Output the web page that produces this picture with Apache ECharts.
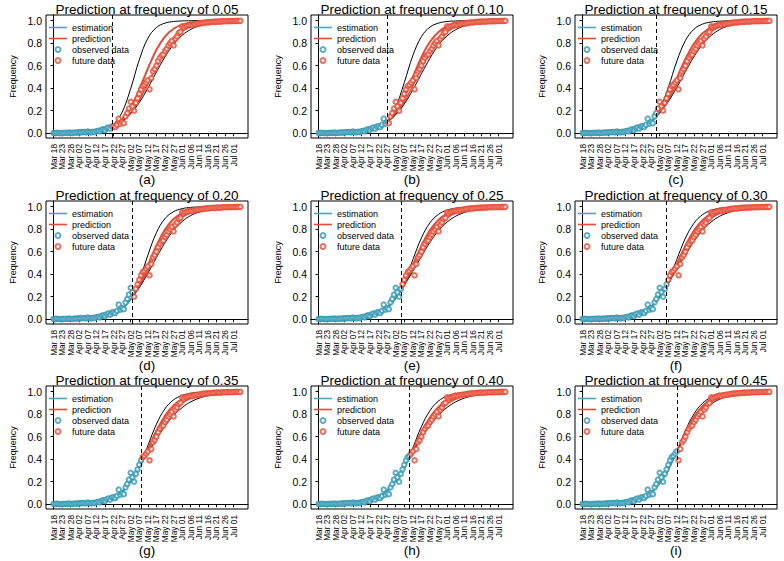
<!DOCTYPE html>
<html><head><meta charset="utf-8">
<script src="https://cdn.jsdelivr.net/npm/echarts@6/dist/echarts.min.js"></script>
<style>html,body{margin:0;padding:0;background:#fff}#c{width:784px;height:561px}</style>
</head><body><div id="c"></div>
<script>
// ---- tick labels (x axis, day index from Mar 18) ----
const tickDays = [0,5,10,15,20,25,30,35,40,45,50,55,60,65,70,75,80,85,90,95,100,105];
const tickLabels = ['Mar 18','Mar 23','Mar 28','Apr 02','Apr 07','Apr 12','Apr 17','Apr 22','Apr 27','May 02','May 07','May 12','May 17','May 22','May 27','Jun 01','Jun 06','Jun 11','Jun 16','Jun 21','Jun 26','Jul 01'];
const yTicks = [0,0.2,0.4,0.6,0.8,1.0];

// ---- daily observed frequency, Mar 18 (day 0) .. Jul 05 (day 109) ----
const frequency = [
 0.003,0.001,0.004,0.002,0.000,0.003,0.002,0.005,0.003,0.006,
 0.004,0.002,0.007,0.005,0.008,0.006,0.010,0.009,0.012,0.007,
 0.015,0.011,0.008,0.014,0.010,0.018,0.022,0.016,0.030,0.035,
 0.028,0.045,0.052,0.040,0.060,0.062,0.055,0.075,0.130,0.085,
 0.100,0.090,0.150,0.180,0.220,0.280,0.240,0.200,0.270,0.310,
 0.350,0.390,0.420,0.430,0.450,0.470,0.390,0.490,0.550,0.570,
 0.600,0.640,0.670,0.690,0.700,0.730,0.750,0.780,0.800,0.820,
 0.780,0.840,0.860,0.890,0.900,0.950,0.940,0.950,0.955,0.960,
 0.965,0.960,0.970,0.968,0.975,0.972,0.978,0.980,0.982,0.985,
 0.983,0.987,0.988,0.990,0.989,0.991,0.992,0.990,0.993,0.994,
 0.995,0.994,0.996,0.995,0.997,0.996,0.997,0.998,0.997,0.998
];

// ---- panels ----
const thresholds = ['0.05','0.10','0.15','0.20','0.25','0.30','0.35','0.40','0.45'];
const panelTags = ['(a)','(b)','(c)','(d)','(e)','(f)','(g)','(h)','(i)'];
const cutoffDays = [34,40,43,46,48,49,51,53,55];

// fitted curves: estimation at days 0,5,..(<cutoff),cutoff ; prediction curves at cutoff, next multiples of 5 .. 110
const estA = [0.0004,0.0007,0.0016,0.0033,0.0070,0.0148,0.031,0.055];
const upA  = [0.055,0.074,0.187,0.397,0.652,0.843,0.939,0.978,0.992,0.997,0.999,1.0,1.0,1.0,1.0,1.0,1.0];
const predA= [0.055,0.063,0.125,0.231,0.389,0.574,0.741,0.858,0.928,0.964,0.983,0.992,0.996,0.998,0.999,1.0,1.0];
const pred2A=[0.055,0.060,0.107,0.182,0.294,0.438,0.593,0.731,0.835,0.905,0.947,0.971,0.984,0.991,0.995,0.997,0.999];
const lowA = [0.055,0.063,0.106,0.175,0.273,0.401,0.543,0.679,0.789,0.870,0.922,0.955,0.974,0.985,0.992,0.995,0.997];

const estB = [0.0003,0.0006,0.0014,0.0028,0.0058,0.012,0.025,0.050,0.100];
const upB  = [0.100,0.231,0.450,0.690,0.858,0.943,0.978,0.992,0.997,0.999,1.0,1.0,1.0,1.0,1.0];
const predB= [0.100,0.187,0.324,0.500,0.676,0.813,0.900,0.950,0.975,0.988,0.994,0.997,0.999,0.999,1.0];
const pred2B=[0.100,0.171,0.280,0.422,0.578,0.720,0.829,0.901,0.945,0.970,0.983,0.991,0.995,0.998,0.999];
const lowB = [0.100,0.165,0.260,0.386,0.529,0.667,0.782,0.865,0.920,0.953,0.973,0.985,0.992,0.995,0.997];

const estC = [0.0004,0.0008,0.0017,0.0034,0.0068,0.0138,0.0274,0.054,0.103,0.150];
const upC  = [0.150,0.207,0.405,0.640,0.823,0.924,0.969,0.988,0.995,0.998,0.999,1.0,1.0,1.0,1.0];
const predC= [0.150,0.190,0.321,0.490,0.660,0.797,0.888,0.941,0.970,0.985,0.993,0.996,0.998,0.999,1.0];
const pred2C=[0.150,0.184,0.296,0.438,0.592,0.729,0.834,0.903,0.945,0.970,0.984,0.991,0.995,0.997,0.999];
const lowC = [0.150,0.182,0.281,0.408,0.548,0.681,0.790,0.868,0.921,0.953,0.973,0.984,0.991,0.995,0.997];

const estD = [0.0003,0.0007,0.0013,0.0028,0.0057,0.0117,0.024,0.048,0.094,0.177,0.199];
const upD  = [0.200,0.343,0.569,0.769,0.894,0.955,0.982,0.993,0.997,0.999,1.0,1.0,1.0,1.0];
const predD= [0.200,0.307,0.478,0.654,0.796,0.890,0.943,0.972,0.986,0.993,0.997,0.998,0.999,1.0];
const pred2D=[0.200,0.293,0.437,0.593,0.733,0.837,0.906,0.948,0.971,0.985,0.992,0.996,0.998,0.999];
const lowD = [0.200,0.281,0.408,0.548,0.681,0.790,0.868,0.921,0.953,0.973,0.984,0.991,0.995,0.997];

const estE = [0.0004,0.0008,0.0017,0.0034,0.0069,0.0138,0.0274,0.054,0.102,0.187,0.259];
const upE  = [0.259,0.328,0.529,0.722,0.857,0.932,0.969,0.986,0.994,0.997,0.999,1.0,1.0,1.0];
const predE= [0.259,0.316,0.483,0.652,0.791,0.884,0.939,0.969,0.984,0.992,0.996,0.998,0.999,1.0];
const pred2E=[0.259,0.308,0.449,0.598,0.732,0.833,0.901,0.944,0.968,0.983,0.990,0.995,0.997,0.998];
const lowE = [0.259,0.303,0.426,0.558,0.684,0.787,0.863,0.915,0.948,0.969,0.982,0.989,0.994,0.996];

const estF = [0.0006,0.0011,0.0022,0.0043,0.0084,0.0165,0.032,0.061,0.112,0.199,0.300];
const upF  = [0.300,0.335,0.532,0.720,0.853,0.929,0.967,0.985,0.993,0.997,0.999,0.999,1.0,1.0];
const predF= [0.300,0.328,0.490,0.654,0.787,0.879,0.935,0.966,0.982,0.991,0.995,0.998,0.999,0.999];
const pred2F=[0.300,0.325,0.462,0.606,0.733,0.830,0.897,0.940,0.965,0.980,0.989,0.994,0.997,0.998];
const lowF = [0.300,0.321,0.443,0.572,0.692,0.791,0.864,0.915,0.947,0.968,0.981,0.988,0.993,0.996];

const estG = [0.0006,0.0012,0.0023,0.0045,0.0088,0.017,0.033,0.062,0.114,0.201,0.330,0.360];
const upG  = [0.360,0.520,0.711,0.848,0.927,0.966,0.985,0.993,0.997,0.999,0.999,1.0,1.0];
const predG= [0.360,0.490,0.652,0.786,0.878,0.933,0.965,0.982,0.991,0.995,0.998,0.999,0.999];
const pred2G=[0.360,0.471,0.613,0.738,0.833,0.899,0.940,0.966,0.980,0.989,0.994,0.996,0.998];
const lowG = [0.360,0.456,0.579,0.693,0.787,0.858,0.909,0.942,0.964,0.978,0.986,0.992,0.995];

const estH = [0.0008,0.0016,0.003,0.0056,0.0106,0.0198,0.037,0.068,0.121,0.207,0.331,0.421];
const upH  = [0.421,0.500,0.690,0.832,0.917,0.961,0.982,0.992,0.996,0.998,0.999,1.0,1.0];
const predH= [0.421,0.484,0.640,0.771,0.865,0.924,0.958,0.978,0.988,0.994,0.997,0.998,0.999];
const pred2H=[0.421,0.475,0.611,0.731,0.825,0.891,0.934,0.961,0.977,0.987,0.992,0.996,0.997];
const lowH = [0.421,0.465,0.589,0.699,0.791,0.860,0.909,0.942,0.963,0.977,0.986,0.991,0.995];

const estI = [0.0005,0.001,0.002,0.004,0.0078,0.015,0.029,0.056,0.104,0.187,0.311,0.470];
const upI  = [0.470,0.654,0.802,0.897,0.949,0.975,0.988,0.995,0.997,0.999,0.999,1.0];
const predI= [0.470,0.635,0.774,0.870,0.929,0.963,0.981,0.990,0.995,0.997,0.999,0.999];
const pred2I=[0.470,0.620,0.750,0.847,0.910,0.949,0.972,0.984,0.992,0.995,0.998,0.999];
const lowI = [0.470,0.606,0.727,0.822,0.889,0.933,0.960,0.977,0.986,0.992,0.995,0.997];

const estList  = [estA,estB,estC,estD,estE,estF,estG,estH,estI];
const upList   = [upA,upB,upC,upD,upE,upF,upG,upH,upI];
const predList = [predA,predB,predC,predD,predE,predF,predG,predH,predI];
const pred2List= [pred2A,pred2B,pred2C,pred2D,pred2E,pred2F,pred2G,pred2H,pred2I];
const lowList  = [lowA,lowB,lowC,lowD,lowE,lowF,lowG,lowH,lowI];

// ---- styling / layout ----
const FONT = '"Liberation Sans", Arial, Helvetica, sans-serif';
const TEAL = '#3399b3';
const TEAL_LINE = '#2e93ab';
const RED = '#E64B35';
const colLeft = [46, 311, 575];
const rowTop = [15, 201, 386];
const GW = 202, GH = 123;
const LINE_ICON = 'path://M0,0h20v1.8h-20z';

function estPairs(vals, cut){ const d=[]; for(let t=0;t<cut;t+=5) d.push(t); d.push(cut); return d.map((t,i)=>[t,vals[i]]); }
function predPairs(vals, cut){ const d=[cut]; for(let t=Math.floor(cut/5)*5+5;t<=110;t+=5) d.push(t); return d.map((t,i)=>[t,vals[i]]); }

const grids=[], xAxes=[], yAxes=[], series=[], titles=[], legends=[];
for (let p=0;p<9;p++){
  const r=Math.floor(p/3), c=p%3;
  const gl=colLeft[c], gt=rowTop[r];
  const cut=cutoffDays[p];
  grids.push({left:gl, top:gt, width:GW, height:GH, show:true, borderColor:'#000', borderWidth:1, backgroundColor:'transparent'});
  xAxes.push({type:'value', gridIndex:p, min:-4.4, max:113.4,
    name:panelTags[p], nameLocation:'middle', nameGap:34, nameMoveOverlap:false,
    nameTextStyle:{fontSize:13.5, lineHeight:14, color:'#000', fontFamily:FONT},
    axisLine:{show:true, lineStyle:{color:'#000', width:1}},
    axisTick:{show:true, length:3, lineStyle:{color:'#000'}, customValues:tickDays},
    axisLabel:{rotate:90, fontSize:8.3, lineHeight:7, color:'#000', fontFamily:FONT, margin:6, interval:0, hideOverlap:false,
      showMinLabel:true, showMaxLabel:true, customValues:tickDays,
      formatter:v=>{const k=tickDays.indexOf(Math.round(v)); return k>=0?tickLabels[k]:'';}},
    splitLine:{show:false}});
  yAxes.push({type:'value', gridIndex:p, min:-0.042, max:1.05,
    name:'Frequency', nameLocation:'middle', nameGap:29, nameMoveOverlap:false,
    nameTextStyle:{fontSize:9, color:'#000', fontFamily:FONT},
    axisLine:{show:true, lineStyle:{color:'#000', width:1}},
    axisTick:{show:true, length:3, lineStyle:{color:'#000'}, customValues:yTicks},
    axisLabel:{fontSize:10.5, color:'#000', fontFamily:FONT, margin:4, interval:0, customValues:yTicks, formatter:v=>v.toFixed(1)},
    splitLine:{show:false}});
  titles.push({text:'Prediction at frequency of '+thresholds[p], left:gl+GW/2, top:gt-12.5, textAlign:'center', padding:0,
    textStyle:{fontSize:13.5, lineHeight:13, fontWeight:'normal', color:'#000', fontFamily:FONT}});
  legends.push({left:gl+3, top:gt+7, orient:'vertical', itemWidth:18, itemHeight:5, itemGap:0, selectedMode:false, padding:0,
    textStyle:{fontSize:9, lineHeight:11, color:'#000', fontFamily:FONT},
    data:[{name:'estimation', icon:LINE_ICON, itemStyle:{color:'#4aa9c0'}},
          {name:'prediction', icon:LINE_ICON, itemStyle:{color:RED}},
          {name:'observed data'},{name:'future data'}]});

  const base = {xAxisIndex:p, yAxisIndex:p, animation:false, silent:true};
  const lineBase = Object.assign({type:'line', symbol:'none', showSymbol:false, smooth:0.4}, base);
  series.push(Object.assign({}, lineBase, {name:'estimation', data:estPairs(estList[p],cut), color:TEAL_LINE, lineStyle:{color:TEAL_LINE, width:2}, z:3}));
  series.push(Object.assign({}, lineBase, {name:'upper', data:predPairs(upList[p],cut), color:'#000', lineStyle:{color:'#000', width:1}, z:3}));
  series.push(Object.assign({}, lineBase, {name:'prediction', data:predPairs(predList[p],cut), color:RED, lineStyle:{color:RED, width:2}, z:3}));
  series.push(Object.assign({}, lineBase, {name:'prediction2', data:predPairs(pred2List[p],cut), color:RED, lineStyle:{color:RED, width:1.6}, z:3}));
  series.push(Object.assign({}, lineBase, {name:'lower', data:predPairs(lowList[p],cut), color:'#000', lineStyle:{color:'#000', width:1}, z:3}));
  const obs=[], fut=[];
  frequency.forEach((v,t)=>{ (t<=cut?obs:fut).push([t,v]); });
  series.push(Object.assign({type:'scatter', name:'observed data', data:obs, symbol:'emptyCircle', symbolSize:4.5,
    color:TEAL, itemStyle:{color:TEAL, borderColor:TEAL, borderWidth:0.75}, z:4,
    markLine:{silent:true, symbol:'none', label:{show:false}, animation:false,
      lineStyle:{color:'#000', type:[4,3], width:1}, data:[{xAxis:cut}]}}, base));
  series.push(Object.assign({type:'scatter', name:'future data', data:fut, symbol:'emptyCircle', symbolSize:4.5,
    color:RED, itemStyle:{color:RED, borderColor:RED, borderWidth:0.75}, z:4}, base));
}

const chart = echarts.init(document.getElementById('c'), null, {renderer:'svg', width:784, height:561});
chart.setOption({backgroundColor:'#fff', animation:false, title:titles, legend:legends, grid:grids, xAxis:xAxes, yAxis:yAxes, series:series});
</script>
</body></html>
